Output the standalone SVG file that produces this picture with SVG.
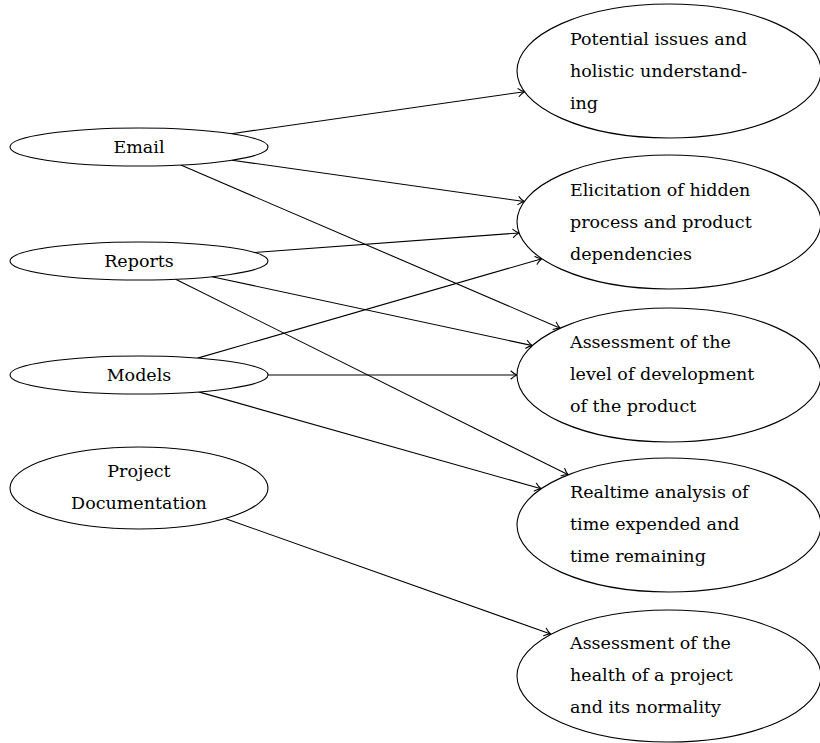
<svg xmlns="http://www.w3.org/2000/svg" width="820" height="743" viewBox="0 0 820 743">
<style>
.n{fill:#fff;stroke:#000;stroke-width:1.1}
.t{font-family:"DejaVu Serif","Liberation Serif",serif;font-size:17.5px;fill:#000}
.c{text-anchor:middle}
.e{fill:none;stroke:#000;stroke-width:1.1;marker-end:url(#ah)}
</style>
<defs>
<marker id="ah" markerUnits="userSpaceOnUse" viewBox="-8 -6 10 12" markerWidth="10" markerHeight="12" refX="0" refY="0" orient="auto">
<path d="M-6,-4 C-4,-2 -1.5,-0.6 0,0 C-1.5,0.6 -4,2 -6,4" fill="none" stroke="#000" stroke-width="1.1" stroke-linecap="round"/>
</marker>
</defs>
<rect width="820" height="743" fill="#fff"/>
<g id="connectors">
<line class="e" x1="231.4" y1="133.7" x2="524.5" y2="91.7"/>
<line class="e" x1="232" y1="160.2" x2="524.3" y2="201.5"/>
<line class="e" x1="180.8" y1="165" x2="560.2" y2="328.2"/>
<line class="e" x1="254.4" y1="252.5" x2="519.1" y2="233"/>
<line class="e" x1="211.9" y1="276.7" x2="532.4" y2="345.6"/>
<line class="e" x1="175.6" y1="279.2" x2="568.3" y2="474.8"/>
<line class="e" x1="197.6" y1="358.1" x2="541.8" y2="258.7"/>
<line class="e" x1="268" y1="375" x2="517" y2="375"/>
<line class="e" x1="198.6" y1="391.9" x2="541.1" y2="488.8"/>
<line class="e" x1="225.1" y1="518.5" x2="550.6" y2="634"/>
</g>
<g id="email"><ellipse class="n" cx="139" cy="147" rx="129" ry="19"/><text class="t c" x="139" y="153">Email</text></g>
<g id="reports"><ellipse class="n" cx="139" cy="261" rx="129" ry="19"/><text class="t c" x="139" y="267">Reports</text></g>
<g id="models"><ellipse class="n" cx="139" cy="375" rx="129" ry="19"/><text class="t c" x="139" y="381">Models</text></g>
<g id="projdoc"><ellipse class="n" cx="139" cy="488" rx="129" ry="41"/><text class="t c" x="139" y="477">Project</text><text class="t c" x="139" y="509">Documentation</text></g>
<g id="potential"><ellipse class="n" cx="669" cy="71" rx="152" ry="67"/><text class="t" x="570" y="45">Potential issues and</text><text class="t" x="570" y="77">holistic understand-</text><text class="t" x="570" y="109">ing</text></g>
<g id="elicitation"><ellipse class="n" cx="669" cy="222" rx="152" ry="67"/><text class="t" x="570" y="196">Elicitation of hidden</text><text class="t" x="570" y="228">process and product</text><text class="t" x="570" y="260">dependencies</text></g>
<g id="level"><ellipse class="n" cx="669" cy="375" rx="152" ry="67"/><text class="t" x="570" y="348">Assessment of the</text><text class="t" x="570" y="380">level of development</text><text class="t" x="570" y="412">of the product</text></g>
<g id="realtime"><ellipse class="n" cx="669" cy="525" rx="152" ry="67"/><text class="t" x="570" y="498">Realtime analysis of</text><text class="t" x="570" y="530">time expended and</text><text class="t" x="570" y="562">time remaining</text></g>
<g id="health"><ellipse class="n" cx="669" cy="676" rx="152" ry="66"/><text class="t" x="570" y="649">Assessment of the</text><text class="t" x="570" y="681">health of a project</text><text class="t" x="570" y="713">and its normality</text></g>
</svg>
